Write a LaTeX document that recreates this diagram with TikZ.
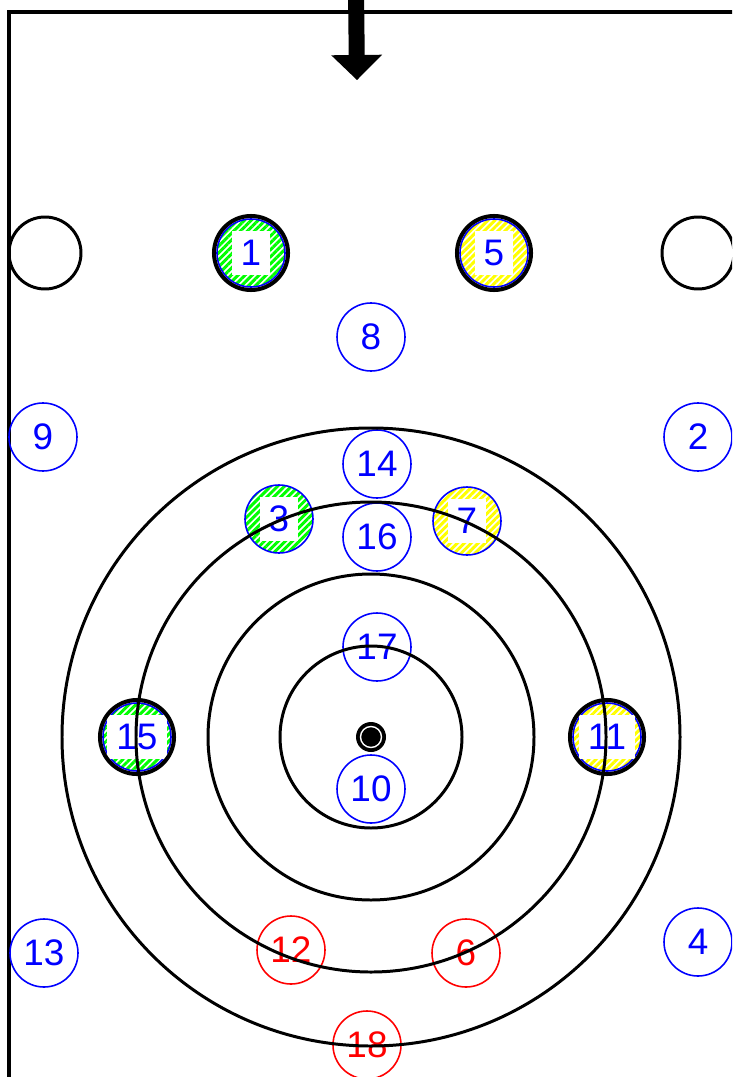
\documentclass[tikz,border=0pt]{standalone}
\usepackage{fontspec}
\setsansfont{Liberation Sans}
\usepackage{tikz}
\usetikzlibrary{arrows.meta,patterns.meta}

\begin{document}
\begin{tikzpicture}[
  spot/.style={circle,draw=blue,line width=0.45pt,minimum size=0.68cm,inner sep=0pt,text=blue,font=\sffamily\fontsize{10.5}{12}\selectfont},
  redspot/.style={spot,draw=red,text=red},
  hatched/.style={spot,pattern={Lines[angle=45,distance=1.4pt,line width=0.85pt]},pattern color=#1},
  tag/.style={fill=white,inner sep=2.6pt,text=blue,font=\sffamily\fontsize{10.5}{12}\selectfont},
  rim/.style={black,line width=1.15pt},
  ring/.style={black,line width=0.85pt}]
\clip (0,0) rectangle (7.32,-10.77);
% frame and feed arrow
\draw[line width=1pt] (0.09,-11) -- (0.09,-0.12) -- (7.6,-0.12);
\coordinate (feedtop) at (3.56,0.1); \coordinate (feed) at (3.57,-0.80);
\draw[line width=0.16cm,-{Triangle[width=0.51cm,length=0.25cm,line width=0pt]}] (feedtop) -- (feed);
% open holes
\node[circle,draw,line width=0.85pt,minimum size=0.72cm] (holeL) at (0.45,-2.53) {};
\node[circle,draw,line width=0.85pt,minimum size=0.72cm] (holeR) at (6.98,-2.53) {};
% plain spots
\foreach \n/\x/\y in {8/3.71/-3.37,9/0.43/-4.37,2/6.98/-4.37,14/3.77/-4.64,16/3.77/-5.37,17/3.77/-6.47,10/3.71/-7.89,13/0.44/-9.53,4/6.98/-9.42}
  \node[spot] (s\n) at (\x,\y) {\n};
\foreach \n/\x/\y in {12/2.91/-9.50,6/4.66/-9.53,18/3.67/-10.45}
  \node[redspot] (s\n) at (\x,\y) {\n};
% hatched spots
\foreach \n/\c/\x/\y in {1/green/2.51/-2.53,5/yellow/4.94/-2.53,3/green/2.79/-5.19,7/yellow/4.67/-5.21,15/green/1.37/-7.37,11/yellow/6.07/-7.37}{
  \node[hatched=\c] (s\n) at (\x,\y) {};
  \node[tag] (t\n) at (s\n) {\n};
}
\foreach \n in {1,5,15,11} \draw[rim] (s\n.center) circle (0.37);
% target
\node[circle,fill=black,minimum size=0.30cm,inner sep=0pt] (bull) at (3.71,-7.37) {};
\draw[white,line width=0.4pt] (bull.center) circle (0.105);
\foreach \r in {0.91,1.63,2.35,3.09} \draw[ring] (bull.center) circle (\r);
\end{tikzpicture}
\end{document}
